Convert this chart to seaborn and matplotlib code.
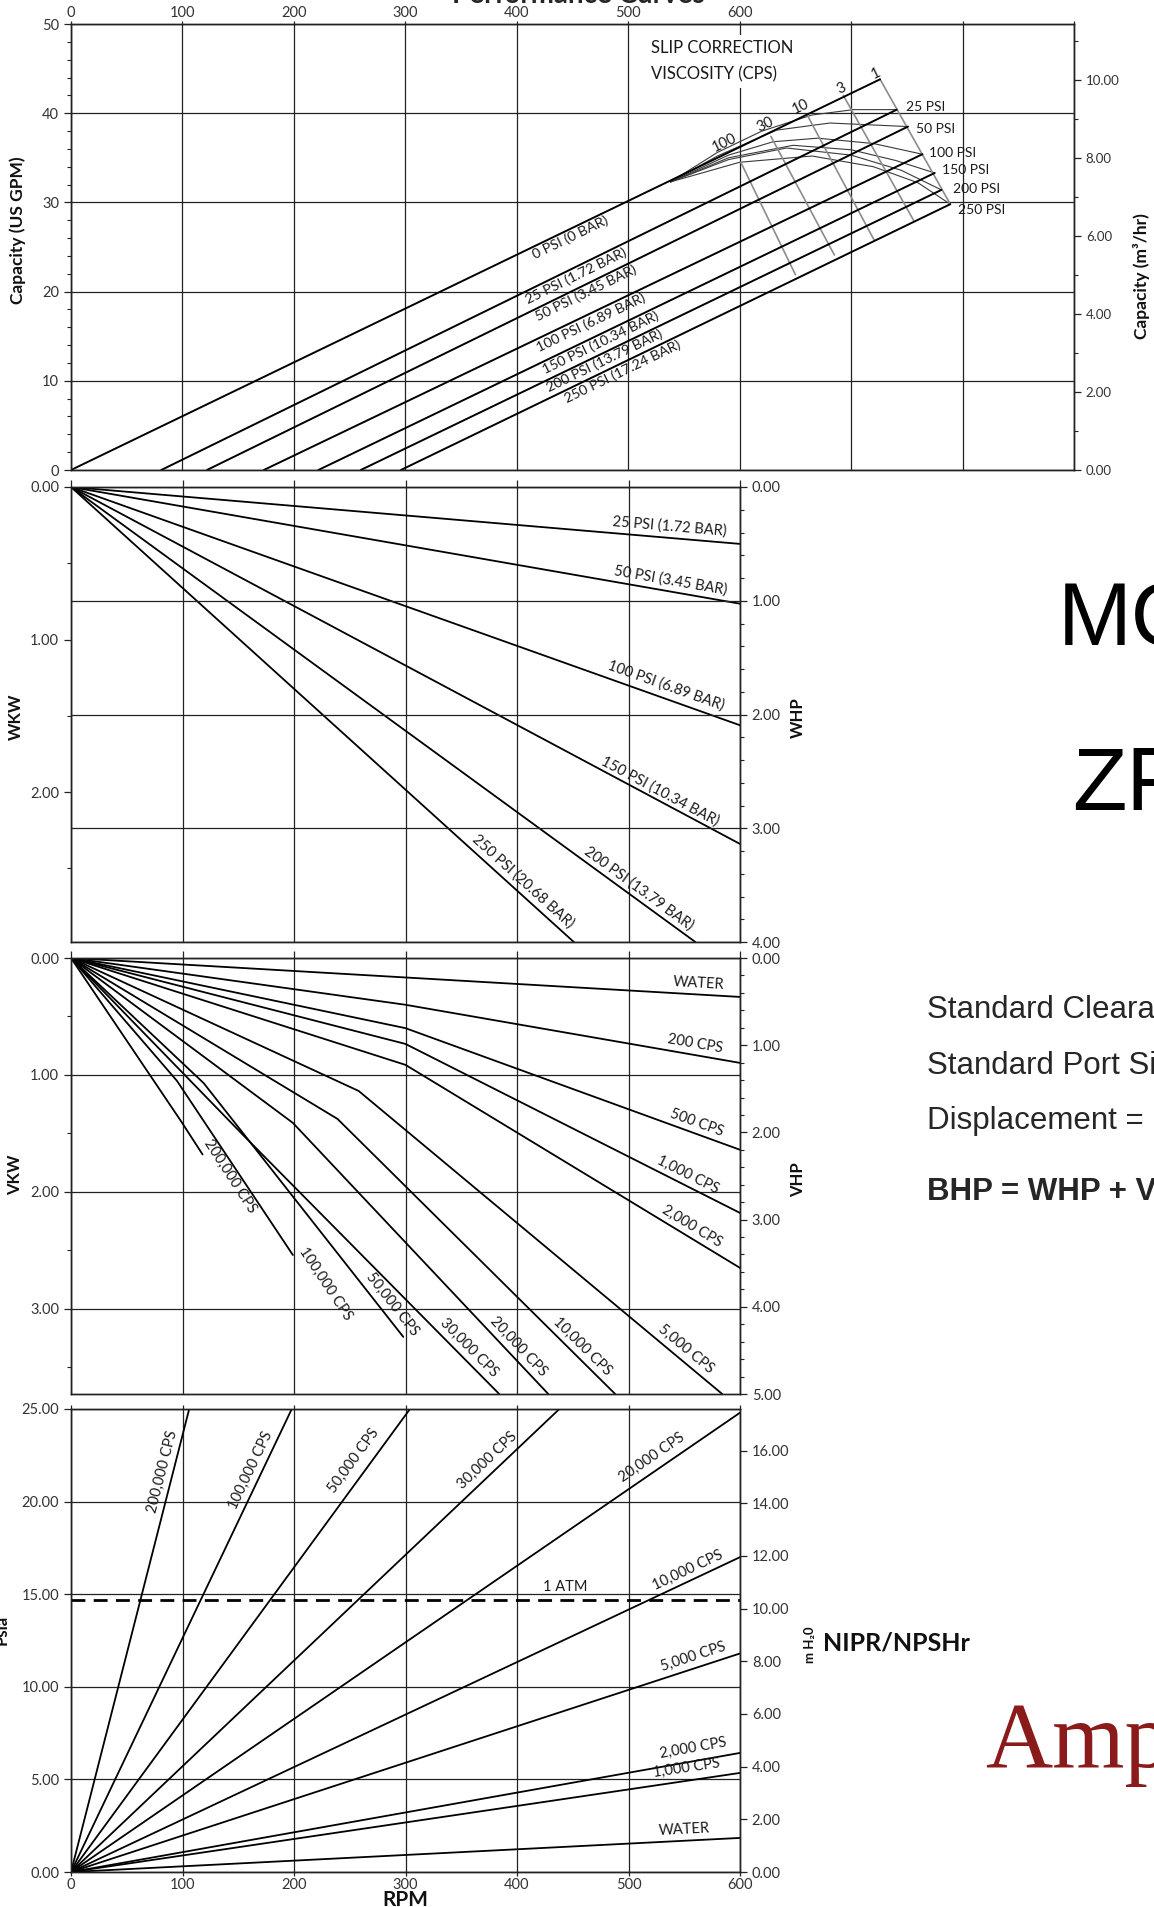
import numpy as np
import pandas as pd
import matplotlib
matplotlib.use('Agg')
import matplotlib.pyplot as plt
import seaborn as sns
from matplotlib.ticker import MultipleLocator

sns.set_theme(style='white')
plt.rcParams['font.family'] = ['Lato', 'DejaVu Sans']

# ============================================
# DATA
# ============================================

rpm_ticks = [0, 100, 200, 300, 400, 500, 600]

# --- capacity: straight slip lines, one per pressure
cap_names = ['0 PSI (0 BAR)', '25 PSI (1.72 BAR)', '50 PSI (3.45 BAR)', '100 PSI (6.89 BAR)',
             '150 PSI (10.34 BAR)', '200 PSI (13.79 BAR)', '250 PSI (17.24 BAR)']
cap_rpm_start = [0, 81, 122, 173, 222, 260, 296]
cap_rpm_end = [726, 741, 751, 764, 775, 781, 789]
cap_gpm_end = [43.8, 40.4, 38.5, 35.4, 33.3, 31.4, 29.8]
cap_label_rpm = [445, 450, 459, 463, 472, 476, 492]

# slip correction curves for viscous fluids
slip_names = ['25 PSI', '50 PSI', '100 PSI', '150 PSI', '200 PSI', '250 PSI']
slip_rpm = [[538, 580, 620, 665, 702, 741],
            [538, 580, 633, 681, 716, 751],
            [538, 590, 630, 670, 720, 764],
            [538, 590, 648, 700, 740, 775],
            [538, 590, 642, 700, 745, 781],
            [538, 600, 665, 720, 760, 789]]
slip_gpm = [[32.3, 35.6, 38.0, 39.8, 40.4, 40.4],
            [32.3, 35.2, 38.1, 38.9, 38.7, 38.5],
            [32.3, 35.3, 36.8, 37.2, 36.6, 35.4],
            [32.3, 35.0, 36.4, 35.9, 34.7, 33.3],
            [32.3, 34.8, 36.1, 35.3, 33.6, 31.4],
            [32.3, 34.5, 35.2, 34.0, 32.2, 29.8]]
slip_tag_rpm = [749, 758, 770, 782, 791, 796]
slip_tag_gpm = [40.7, 38.2, 35.5, 33.6, 31.5, 29.1]

# viscosity iso-lines (cps)
visc_names = ['100', '30', '10', '3', '1']
visc_rpm = [[601, 650], [628, 685], [661, 721], [693, 756], [726, 789]]
visc_gpm = [[34.5, 21.9], [37.4, 24.1], [39.7, 25.7], [42.0, 28.0], [43.8, 29.8]]
visc_label_rpm = [586, 623, 655, 691, 722]
visc_label_gpm = [36.7, 38.7, 40.7, 42.8, 44.5]

# --- water power (kW), straight lines from origin
whp_names = ['25 PSI (1.72 BAR)', '50 PSI (3.45 BAR)', '100 PSI (6.89 BAR)',
             '150 PSI (10.34 BAR)', '200 PSI (13.79 BAR)', '250 PSI (20.68 BAR)']
whp_rpm_end = [600, 600, 600, 600, 560, 451]
whp_kw_end = [0.373, 0.765, 1.562, 2.34, 2.983, 2.983]
whp_label_rpm = [537, 538, 534, 528, 509, 405]
whp_label_kw = [0.261, 0.614, 1.30, 1.993, 2.634, 2.582]

# --- viscous power (kW), lines with a kink
vhp_names = ['WATER', '200 CPS', '500 CPS', '1,000 CPS', '2,000 CPS', '5,000 CPS',
             '10,000 CPS', '20,000 CPS', '30,000 CPS', '50,000 CPS', '100,000 CPS', '200,000 CPS']
vhp_rpm = [[0, 600], [0, 300, 600], [0, 300, 600], [0, 300, 600], [0, 300, 600],
           [0, 258, 584], [0, 239, 488], [0, 199, 428], [0, 156, 384],
           [0, 119, 298], [0, 95, 199], [0, 99, 118]]
vhp_kw = [[0, 0.333], [0, 0.40, 0.897], [0, 0.60, 1.64], [0, 0.735, 2.18], [0, 0.914, 2.65],
          [0, 1.137, 3.728], [0, 1.376, 3.728], [0, 1.41, 3.728], [0, 1.53, 3.728],
          [0, 1.07, 3.24], [0, 1.05, 2.54], [0, 1.40, 1.68]]
vhp_label_rpm = [562, 558, 558, 549, 552, 545, 452, 394, 350, 280, 220, 134]

# --- NIPR / NPSHr (psia), straight lines from origin
npsh_names = ['WATER', '1,000 CPS', '2,000 CPS', '5,000 CPS', '10,000 CPS', '20,000 CPS',
              '30,000 CPS', '50,000 CPS', '100,000 CPS', '200,000 CPS']
npsh_rpm_end = [600, 600, 600, 600, 600, 600, 438, 304, 198, 106]
npsh_psia_end = [1.84, 5.35, 6.43, 11.8, 17.0, 24.8, 25, 25, 25, 25]
npsh_label_rpm = [550, 552, 558, 558, 553, 521, 373, 253, 161, 82]
npsh_label_psia = [2.3, 5.6, 6.7, 11.6, 16.3, 22.4, 22.2, 22.2, 21.7, 21.6]
atm_psia = 14.7

KW_PER_HP = 0.7457
M_PER_PSI = 0.7031
GPM_PER_M3H = 4.375

# ============================================
# HELPERS
# ============================================

W, H = 1154, 1907
fig = plt.figure(figsize=(W / 100, H / 100), dpi=100)
INK = '#1a1a1a'


def panel(left, top, right, bottom):
    return fig.add_axes([left / W, 1 - bottom / H, (right - left) / W, (bottom - top) / H])


def fig_text(x, y, s, **kw):
    fig.text(x / W, 1 - y / H, s, **kw)


def draw_lines(ax, names, xs, ys, color='black', lw=1.3, **kw):
    rows = [(n, x, y) for n, xx, yy in zip(names, xs, ys) for x, y in zip(xx, yy)]
    df = pd.DataFrame(rows, columns=['curve', 'rpm', 'value'])
    sns.lineplot(data=df, x='rpm', y='value', units='curve', estimator=None, sort=False,
                 color=color, lw=lw, ax=ax, legend=False, **kw)
    ax.set_xlabel('')
    ax.set_ylabel('')


def seg_angle(ax, x0, y0, x1, y1):
    (a, b), (c, d) = ax.transData.transform([(x0, y0), (x1, y1)])
    return np.degrees(np.arctan2(d - b, c - a))


def beside(ax, x0, y0, x1, y1, r, off):
    """point on segment (extended) at x=r, pushed off px along the upper normal"""
    y = y0 + (y1 - y0) * (r - x0) / (x1 - x0)
    a = np.radians(seg_angle(ax, x0, y0, x1, y1))
    px, py = ax.transData.transform((r, y))
    px -= off * np.sin(a)
    py += off * np.cos(a)
    return ax.transData.inverted().transform((px, py)), np.degrees(a)


def tag(ax, s, x, y, rot=0, size=10.5, **kw):
    ax.text(x, y, s, rotation=rot, rotation_mode='anchor', ha='center', va='center',
            fontsize=size, color=INK, **kw)


def style_axis(ax):
    for sp in ax.spines.values():
        sp.set_visible(True)
        sp.set_color('#222222')
        sp.set_linewidth(1.0)
    ax.tick_params(which='both', direction='out', colors='#222222', labelsize=10.5, labelcolor='#333333')
    ax.tick_params(which='major', length=5, width=0.9)
    ax.tick_params(which='minor', length=3, width=0.8)


def fmt2(vals):
    return [f'{v:.2f}' for v in vals]


GRID = dict(color='#222222', lw=0.9)

# ============================================
# PANEL 1 - CAPACITY
# ============================================

ax1 = panel(71, 24, 1074, 470)
cap_x = [[s, e] for s, e in zip(cap_rpm_start, cap_rpm_end)]
cap_y = [[0, g] for g in cap_gpm_end]
draw_lines(ax1, slip_names, slip_rpm, slip_gpm, color='#3a3a3a', lw=0.8)
draw_lines(ax1, visc_names, visc_rpm, visc_gpm, color='#8c8c8c', lw=1.2)
draw_lines(ax1, cap_names, cap_x, cap_y, lw=1.4)
ax1.set_xlim(0, 900)
ax1.set_ylim(0, 50)
style_axis(ax1)
ax1.set_xticks(range(0, 901, 100))
ax1.set_xticklabels([str(v) if v in rpm_ticks else '' for v in range(0, 901, 100)])
ax1.xaxis.tick_top()
ax1.tick_params(axis='x', top=True, bottom=False, labeltop=True, labelbottom=False,
                length=2, pad=1)
ax1.set_yticks([0, 10, 20, 30, 40, 50])
ax1.set_yticklabels(['0', '10', '20', '30', '40', '50'])
ax1.yaxis.set_minor_locator(MultipleLocator(2))
ax1.tick_params(axis='y', which='both', left=True)
ax1.grid(True, which='major', **GRID)

ang = seg_angle(ax1, 0, 0, cap_rpm_end[0], cap_gpm_end[0])
for name, s, e, g, lx in zip(cap_names, cap_rpm_start, cap_rpm_end, cap_gpm_end, cap_label_rpm):
    (lx2, ly2), a = beside(ax1, s, 0, e, g, lx, -8)
    tag(ax1, name, lx2, ly2, rot=a, size=10.3)
for name, x, y in zip(visc_names, visc_label_rpm, visc_label_gpm):
    tag(ax1, name, x, y, rot=ang, size=10.5)
for name, x, y in zip(slip_names, slip_tag_rpm, slip_tag_gpm):
    ax1.text(x, y, name, ha='left', va='center', fontsize=10, color=INK)
ax1.text(520, 45.8, 'SLIP CORRECTION\nVISCOSITY (CPS)', ha='left', va='center', fontsize=12,
         color=INK, linespacing=1.75, zorder=5,
         bbox=dict(boxstyle='square,pad=0.35', fc='white', ec='none'))

r1 = ax1.twinx()
r1.set_ylim(0, 50 / GPM_PER_M3H)
style_axis(r1)
r1.set_yticks([0, 2, 4, 6, 8, 10])
r1.set_yticklabels(fmt2([0, 2, 4, 6, 8, 10]), fontsize=9.5)
r1.yaxis.set_minor_locator(MultipleLocator(1))
r1.tick_params(axis='y', which='both', right=True, left=False, labelright=True, labelleft=False)
r1.grid(False)

# ============================================
# PANEL 2 - WATER POWER
# ============================================

ax2 = panel(71, 487, 740, 942)
draw_lines(ax2, whp_names, [[0, e] for e in whp_rpm_end], [[0, k] for k in whp_kw_end], lw=1.3)
ax2.set_xlim(0, 600)
ax2.set_ylim(4 * KW_PER_HP, 0)
style_axis(ax2)
ax2.set_xticks(rpm_ticks)
ax2.tick_params(axis='x', top=True, bottom=False, labeltop=False, labelbottom=False)
ax2.set_yticks([0, 1, 2])
ax2.set_yticklabels(fmt2([0, 1, 2]))
ax2.yaxis.set_minor_locator(MultipleLocator(0.5))
ax2.tick_params(axis='y', which='both', left=True)
ax2.grid(True, axis='x', **GRID)
for name, e, k, x, y in zip(whp_names, whp_rpm_end, whp_kw_end, whp_label_rpm, whp_label_kw):
    tag(ax2, name, x, y, rot=seg_angle(ax2, 0, 0, e, k), size=10.5)

r2 = ax2.twinx()
r2.set_ylim(4, 0)
style_axis(r2)
r2.set_yticks([0, 1, 2, 3, 4])
r2.set_yticklabels(fmt2([0, 1, 2, 3, 4]))
r2.yaxis.set_minor_locator(MultipleLocator(0.2))
r2.tick_params(axis='y', which='both', right=True, left=False, labelright=True, labelleft=False)
r2.grid(True, axis='y', **GRID)

# ============================================
# PANEL 3 - VISCOUS POWER
# ============================================

ax3 = panel(71, 958, 740, 1394)
draw_lines(ax3, vhp_names, vhp_rpm, vhp_kw, lw=1.3)
ax3.set_xlim(0, 600)
ax3.set_ylim(5 * KW_PER_HP, 0)
style_axis(ax3)
ax3.set_xticks(rpm_ticks)
ax3.tick_params(axis='x', top=True, bottom=False, labeltop=False, labelbottom=False)
ax3.set_yticks([0, 1, 2, 3])
ax3.set_yticklabels(fmt2([0, 1, 2, 3]))
ax3.yaxis.set_minor_locator(MultipleLocator(0.5))
ax3.tick_params(axis='y', which='both', left=True)
ax3.grid(True, which='major', **GRID)
for name, xs, ys, r in zip(vhp_names, vhp_rpm, vhp_kw, vhp_label_rpm):
    (lx, ly), a = beside(ax3, xs[-2], ys[-2], xs[-1], ys[-1], r, 11)
    tag(ax3, name, lx, ly, rot=a, size=10.5)

r3 = ax3.twinx()
r3.set_ylim(5, 0)
style_axis(r3)
r3.set_yticks([0, 1, 2, 3, 4, 5])
r3.set_yticklabels(fmt2([0, 1, 2, 3, 4, 5]))
r3.yaxis.set_minor_locator(MultipleLocator(0.2))
r3.tick_params(axis='y', which='both', right=True, left=False, labelright=True, labelleft=False)
r3.grid(False)

# ============================================
# PANEL 4 - NIPR / NPSHr
# ============================================

ax4 = panel(71, 1409, 740, 1872)
draw_lines(ax4, npsh_names, [[0, e] for e in npsh_rpm_end], [[0, p] for p in npsh_psia_end], lw=1.3)
sns.lineplot(x=[0, 600], y=[atm_psia, atm_psia], color='black', lw=2.0, ax=ax4,
             linestyle=(0, (5, 3)))
ax4.set_xlim(0, 600)
ax4.set_ylim(0, 25)
style_axis(ax4)
ax4.set_xticks(rpm_ticks)
ax4.set_xticklabels([str(v) for v in rpm_ticks])
ax4.tick_params(axis='x', top=True, bottom=True, labeltop=False, labelbottom=True,
                length=3, pad=1)
ax4.set_yticks([0, 5, 10, 15, 20, 25])
ax4.set_yticklabels(fmt2([0, 5, 10, 15, 20, 25]))
ax4.tick_params(axis='y', left=True)
ax4.grid(True, which='major', **GRID)
for name, e, p, x, y in zip(npsh_names, npsh_rpm_end, npsh_psia_end, npsh_label_rpm, npsh_label_psia):
    tag(ax4, name, x, y, rot=seg_angle(ax4, 0, 0, e, p), size=10.5)
ax4.text(443, 15.4, '1 ATM', ha='center', va='center', fontsize=10.5, color=INK)

r4 = ax4.twinx()
r4.set_ylim(0, 25 * M_PER_PSI)
style_axis(r4)
r4.set_yticks(range(0, 17, 2))
r4.set_yticklabels(fmt2(range(0, 17, 2)))
r4.tick_params(axis='y', right=True, left=False, labelright=True, labelleft=False)
r4.grid(False)

# ============================================
# AXIS TITLES AND SIDE TEXT
# ============================================

B = dict(fontweight='bold', color='#111111', ha='center', va='center')
fig_text(578, 3, 'Performance Curves', fontsize=20, fontweight='bold', ha='center', va='baseline')
fig_text(18, 230, 'Capacity (US GPM)', rotation=90, fontsize=12.5, **B)
fig_text(1142, 276, 'Capacity (m³/hr)', rotation=90, fontsize=12.5, **B)
fig_text(16, 717, 'WKW', rotation=90, fontsize=12, **B)
fig_text(798, 718, 'WHP', rotation=90, fontsize=12, **B)
fig_text(15, 1175, 'VKW', rotation=90, fontsize=12, **B)
fig_text(798, 1180, 'VHP', rotation=90, fontsize=12, **B)
fig_text(2, 1630, 'Psia', rotation=90, fontsize=12, **B)
fig_text(405, 1906, 'RPM', fontsize=15, fontweight='bold', color='#111111', ha='center', va='baseline')
fig_text(810, 1645, 'm H₂0', rotation=90, fontsize=9.5, **B)
fig_text(823, 1643, 'NIPR/NPSHr', fontsize=18, fontweight='bold', color='#111111', ha='left', va='center')

SANS = ['Liberation Sans', 'DejaVu Sans']
fig_text(1058, 645, 'MODEL', fontsize=64, family=SANS, color='black', ha='left', va='baseline')
fig_text(1072, 810, 'ZP1', fontsize=64, family=SANS, color='black', ha='left', va='baseline')
fig_text(927, 1018, 'Standard Clearances', fontsize=22.5, family=SANS, ha='left', va='baseline')
fig_text(927, 1074, 'Standard Port Size', fontsize=22.5, family=SANS, ha='left', va='baseline')
fig_text(927, 1129, 'Displacement =   0.06 Gal/Rev', fontsize=22.5, family=SANS, ha='left', va='baseline')
fig_text(927, 1200, 'BHP = WHP + VHP', fontsize=22.5, family=SANS, fontweight='bold', ha='left', va='baseline')
fig_text(985, 1767, 'Ampco', fontsize=67, family=['Liberation Serif', 'DejaVu Serif'],
         color='#8b1a1a', ha='left', va='baseline')

fig.savefig('out.png', dpi=100)
